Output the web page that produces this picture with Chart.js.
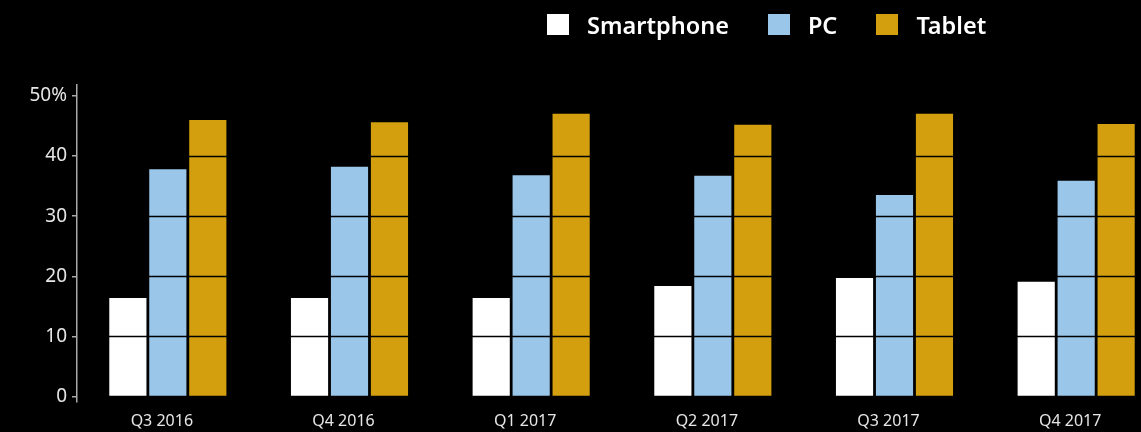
<!DOCTYPE html>
<html>
<head>
<meta charset="utf-8">
<script src="https://cdn.jsdelivr.net/npm/chart.js@4"></script>
<style>
  html, body { margin: 0; padding: 0; background: #000; }
  #wrap { position: relative; width: 1141px; height: 432px; overflow: hidden; background: #000; }
  #chartBox { position: absolute; left: 0; top: 0; width: 1170px; height: 432px; }
  #legend { position: absolute; left: 547px; top: 14px; display: flex; gap: 39px;
    font-family: "Noto Sans", sans-serif; font-weight: 600; font-size: 23.5px; color: #fff; }
  .item { display: flex; align-items: center; height: 21px; }
  .swatch { width: 22px; height: 21px; margin-right: 18px; }
</style>
</head>
<body>
<div id="wrap">
  <div id="chartBox"><canvas id="shareChart"></canvas></div>
  <div id="legend"></div>
</div>
<script>
// Données (en %)
const quarters = ['Q3 2016', 'Q4 2016', 'Q1 2017', 'Q2 2017', 'Q3 2017', 'Q4 2017'];
const seriesNames = ['Smartphone', 'PC', 'Tablet'];
const seriesColors = ['#ffffff', '#9ac6e9', '#d39f0e'];
const smartphone = [16.4, 16.4, 16.4, 18.4, 19.7, 19.1];
const pc = [37.8, 38.2, 36.8, 36.7, 33.5, 35.9];
const tablet = [46.0, 45.6, 47.0, 45.2, 47.0, 45.3];
const yTicks = [0, 10, 20, 30, 40, 50];

const seriesValues = [smartphone, pc, tablet];

// Légende HTML
const legendEl = document.getElementById('legend');
seriesNames.forEach((name, i) => {
  const item = document.createElement('div');
  item.className = 'item';
  item.innerHTML = `<span class="swatch" style="background:${seriesColors[i]}"></span><span>${name}</span>`;
  legendEl.appendChild(item);
});

// Grille noire dessinée par-dessus les barres
const gridOverBars = {
  id: 'gridOverBars',
  afterDatasetsDraw(chart) {
    const { ctx, chartArea, scales } = chart;
    ctx.save();
    ctx.strokeStyle = '#000';
    ctx.lineWidth = 1.6;
    yTicks.forEach(v => {
      if (v === 0) return;
      const y = Math.round(scales.y.getPixelForValue(v)) + 0.5;
      ctx.beginPath();
      ctx.moveTo(chartArea.left + 1, y);
      ctx.lineTo(chartArea.right, y);
      ctx.stroke();
    });
    ctx.restore();
  }
};

const datasets = seriesNames.map((name, i) => ({
  label: name,
  data: seriesValues[i],
  backgroundColor: seriesColors[i],
  borderWidth: 0,
  categoryPercentage: 0.66,
  barPercentage: 0.93
}));

const ctx = document.getElementById('shareChart').getContext('2d');
new Chart(ctx, {
  type: 'bar',
  data: { labels: quarters, datasets },
  plugins: [gridOverBars],
  options: {
    responsive: true,
    maintainAspectRatio: false,
    animation: false,
    layout: { padding: { top: 85, right: 3, bottom: 0, left: 0 } },
    plugins: { legend: { display: false }, tooltip: { enabled: false } },
    scales: {
      x: {
        grid: { display: false, drawTicks: false },
        border: { display: false },
        ticks: {
          color: '#e6e6e6',
          padding: 10,
          labelOffset: -6,
          font: { family: 'Noto Sans', size: 16 },
          maxRotation: 0
        },
        afterFit(scale) { scale.height = 30; }
      },
      y: {
        min: -0.9,
        max: 51.8,
        afterBuildTicks(scale) { scale.ticks = yTicks.map(v => ({ value: v })); },
        afterFit(scale) { scale.width = 77; },
        grid: { drawOnChartArea: false, drawTicks: true, tickLength: 5, color: '#aaaaaa', lineWidth: 1.5 },
        border: { display: true, color: '#aaaaaa', width: 1.5 },
        ticks: {
          color: '#e6e6e6',
          padding: 5,
          font: { family: 'Noto Sans', size: 19 },
          callback: v => (v === 50 ? '50%' : v)
        }
      }
    }
  }
});
</script>
</body>
</html>
